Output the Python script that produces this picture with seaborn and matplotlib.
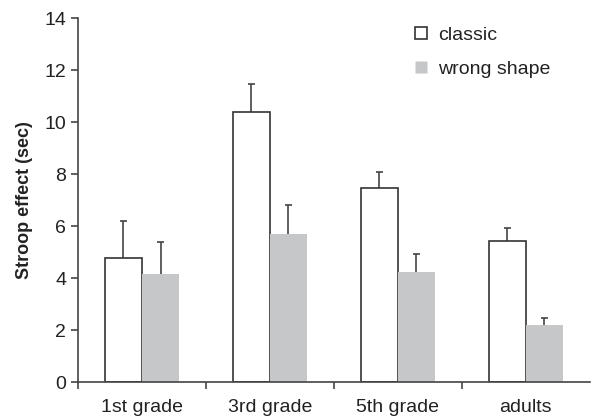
import pandas as pd
import matplotlib.pyplot as plt
from matplotlib.lines import Line2D
import seaborn as sns

groups = ["1st grade", "3rd grade", "5th grade", "adults"]
conditions = ["classic", "wrong shape"]
classic = [4.78, 10.40, 7.45, 5.41]
classic_err = [1.41, 1.06, 0.63, 0.52]
wrong = [4.17, 5.69, 4.22, 2.19]
wrong_err = [1.23, 1.12, 0.72, 0.28]
colors = ["white", "#c6c7c9"]

rows = []
for i, g in enumerate(groups):
    rows.append({"group": g, "condition": "classic", "effect": classic[i], "err": classic_err[i]})
    rows.append({"group": g, "condition": "wrong shape", "effect": wrong[i], "err": wrong_err[i]})
df = pd.DataFrame(rows)

sns.set_style("ticks")
plt.rcParams["font.family"] = ["Liberation Sans", "DejaVu Sans"]

fig = plt.figure(figsize=(6.07, 4.19), dpi=100)
ax = fig.add_axes([0.1285, 0.088, 0.843, 0.869])

ax = sns.barplot(data=df, x="group", y="effect", hue="condition", hue_order=conditions,
                 palette=colors, errorbar=None, width=0.58, gap=0,
                 ax=ax, zorder=2, legend=False)

# outline only the white bars
for bar in ax.containers[0]:
    bar.set_edgecolor("#333333")
    bar.set_linewidth(1.2)
for bar in ax.containers[1]:
    bar.set_edgecolor("none")

# upper-only error bars
errs = [classic_err, wrong_err]
cap = 0.028
for c, e in zip(ax.containers, errs):
    for b, err in zip(c, e):
        x = b.get_x() + b.get_width() / 2
        y = b.get_height()
        ax.vlines(x, y, y + err, color="#444444", linewidth=1.2, zorder=1)
        ax.hlines(y + err, x - cap, x + cap, color="#444444", linewidth=1.2, zorder=1)

ax.set_ylim(0, 14)
ax.set_yticks(range(0, 15, 2))
ax.set_xlim(-0.5, 3.5)
ax.set_xticks([-0.5, 0.5, 1.5, 2.5], minor=False)
ax.set_xticklabels([])
ax.set_xticks([0, 1, 2, 3], minor=True)
ax.set_xticklabels(groups, minor=True)
ax.tick_params(axis="x", which="minor", length=0, labelsize=14, pad=12, colors="#222222")
ax.tick_params(axis="x", which="major", length=5, width=1.2, color="#444444")
ax.tick_params(axis="y", length=5, width=1.2, labelsize=14, color="#444444", labelcolor="#222222")
ax.set_xlabel("")
ax.set_ylabel("Stroop effect (sec)", fontsize=13, fontweight="bold", color="#222222", labelpad=8)
sns.despine(ax=ax)
for s in ["left", "bottom"]:
    ax.spines[s].set_color("#444444")
    ax.spines[s].set_linewidth(1.2)

handles = [Line2D([], [], ls="none", marker="s", markersize=8, markerfacecolor=colors[0],
                  markeredgecolor="#333333", markeredgewidth=1.2),
           Line2D([], [], ls="none", marker="s", markersize=9, markerfacecolor=colors[1],
                  markeredgecolor="none")]
leg = ax.legend(handles, conditions, loc="upper left", bbox_to_anchor=(0.635, 1.01), frameon=False,
                fontsize=14, handlelength=0.7, handletextpad=0.5, labelspacing=0.85,
                borderaxespad=0.2)
for t in leg.get_texts():
    t.set_color("#222222")

fig.savefig("out.png", dpi=100)
